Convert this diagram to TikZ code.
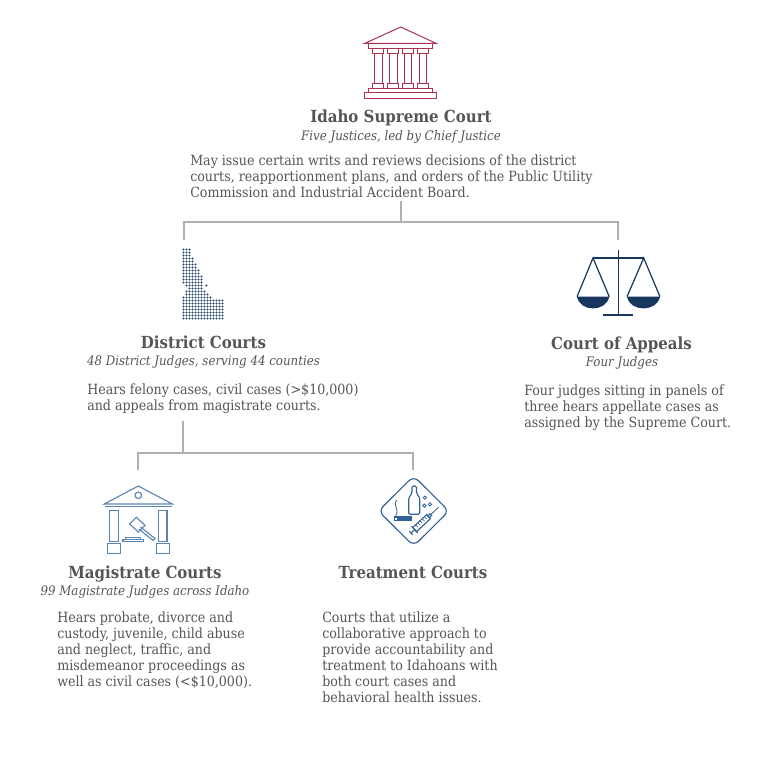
\documentclass[tikz,border=0pt]{standalone}
\usepackage{fontspec}
\setmainfont{DejaVu Serif Condensed}
\definecolor{inktext}{HTML}{555555}
\definecolor{courtred}{HTML}{A8324F}
\definecolor{navyblue}{HTML}{17365D}
\definecolor{dotblue}{HTML}{27466F}
\definecolor{steelblue}{HTML}{5A85B2}
\definecolor{deepblue}{HTML}{2F6296}
\definecolor{linegray}{HTML}{B0B0B0}
\tikzset{
  ctitle/.style={text=inktext,font=\fontsize{12.5}{14}\selectfont\bfseries,inner sep=0pt,anchor=base},
  csub/.style={text=inktext,font=\fontsize{9.85}{12}\selectfont\itshape,inner sep=0pt,anchor=base},
  cdesc/.style={text=inktext,font=\fontsize{10.55}{12}\selectfont,inner sep=0pt,anchor=north west,align=left},
  connector/.style={draw=linegray,line width=0.8pt},
  redline/.style={draw=courtred,line width=0.75pt},
  navyline/.style={draw=navyblue,line width=1.1pt},
  steelline/.style={draw=steelblue,line width=0.85pt},
  deepline/.style={draw=deepblue,line width=0.85pt}
}
\begin{document}
\begin{tikzpicture}[x=0.75pt,y=-0.75pt]
  \useasboundingbox (0,0) rectangle (761,783);
  %% supreme court icon
  \draw[redline] (365,43.3) -- (400.7,27) -- (436,43.3) -- cycle;
  \draw[redline] (368.3,43.3) rectangle (432.3,48.7);
  \foreach \colx in {372.7,387.7,402.5,417.5}{
    \draw[redline] (\colx,48.7) rectangle ++(10.6,4.6);
    \draw[redline] (\colx+1.5,53.3) rectangle ++(7.8,30);
    \draw[redline] (\colx,83.3) rectangle ++(10.6,4.7);
  }
  \draw[redline] (368.3,88) rectangle (432.3,92.3);
  \draw[redline] (364.7,92.3) rectangle (436.3,98.3);
  %% supreme court texts
  \node[ctitle] (supremetitle) at (401,122.5) {Idaho Supreme Court};
  \node[csub] (supremesub) at (401,140) {Five Justices, led by Chief Justice};
  \node[cdesc] (supremedesc) at (190,155) {May issue certain writs and reviews decisions of the district\\courts, reapportionment plans, and orders of the Public Utility\\Commission and Industrial Accident Board.};
  %% upper connectors
  \coordinate (supremefoot) at (401,201);
  \coordinate (supremeknee) at (401,222);
  \coordinate (districtdrop) at (184,240);
  \coordinate (appealsdrop) at (618,240);
  \draw[connector] (supremefoot) -- (supremeknee);
  \draw[connector] (districtdrop) |- (supremeknee) -| (appealsdrop);
  %% state map made of dots
  \foreach \rowy/\cola/\colb in {0/0/2,1/0/2,2/0/2,3/0/3,4/0/3,5/0/4,6/0/4,7/0/5,8/0/5,9/0/6,10/0/6,11/0/6,
      12/1/6,13/2/6,14/1/7,15/1/8,16/0/9,17/0/13,18/0/13,19/0/13,20/0/13,21/0/13,22/0/13,23/0/13}{
    \foreach \colx in {\cola,...,\colb}{
      \fill[dotblue] (183.5+3*\colx,249.5+3*\rowy) circle (1.1);
    }
  }
  \fill[dotblue] (206.5,285.5) circle (1.1);
  %% district court texts
  \node[ctitle] (districttitle) at (203.5,348) {District Courts};
  \node[csub] (districtsub) at (203.5,365) {48 District Judges, serving 44 counties};
  \node[cdesc] (districtdesc) at (87,384) {Hears felony cases, civil cases (>\$10,000)\\and appeals from magistrate courts.};
  %% scales icon
  \draw[navyline] (618.3,250) -- (618.3,315);
  \draw[navyline] (603,315) -- (633.3,315);
  \draw[navyline] (593,258) -- (643.7,258);
  \draw[navyline,line width=0.9pt] (577,296.7) -- (593,258) -- (609.3,296.7);
  \draw[navyline,line width=0.9pt] (627,296.7) -- (643.7,258) -- (660,296.7);
  \fill[navyblue] (577,296.7) .. controls (580,312.3) and (606,312.3) .. (609.3,296.7) -- cycle;
  \fill[navyblue] (627,296.7) .. controls (630,312.3) and (657,312.3) .. (660,296.7) -- cycle;
  %% appeals texts
  \node[ctitle] (appealstitle) at (621.5,349) {Court of Appeals};
  \node[csub] (appealssub) at (622,366) {Four Judges};
  \node[cdesc] (appealsdesc) at (524,385) {Four judges sitting in panels of\\three hears appellate cases as\\assigned by the Supreme Court.};
  %% lower connectors
  \coordinate (districtfoot) at (183,421);
  \coordinate (districtknee) at (183,453);
  \coordinate (magistratedrop) at (138,470);
  \coordinate (treatmentdrop) at (413,470);
  \draw[connector] (districtfoot) -- (districtknee);
  \draw[connector] (magistratedrop) |- (districtknee) -| (treatmentdrop);
  %% magistrate icon
  \draw[steelline] (104.3,504) -- (138.3,486) -- (172.3,504) -- cycle;
  \draw[steelline,line width=0.6pt] (105,506) -- (172,506);
  \draw[steelline] (138.3,495.3) circle (3.3);
  \draw[steelline] (109.7,510.7) rectangle (118.3,541.3);
  \draw[steelline] (158.3,510.7) rectangle (167,541.3);
  \draw[steelline] (107.7,543.3) rectangle (120.7,553.3);
  \draw[steelline] (156.3,543.3) rectangle (169.7,553.3);
  \draw[steelline] (129.7,524) -- (136.3,517.3) -- (145,525.3) -- (138.3,532) -- cycle;
  \draw[steelline] (140.5,527) -- (155,538.5) -- (153.2,540.5) -- (138.8,529) ;
  \draw[steelline] (125.7,537.3) rectangle (140.3,539.3);
  \draw[steelline] (123,539.3) rectangle (143.3,541.3);
  %% magistrate texts
  \node[ctitle] (magistratetitle) at (145,578) {Magistrate Courts};
  \node[csub] (magistratesub) at (145,595) {99 Magistrate Judges across Idaho};
  \node[cdesc] (magistratedesc) at (57,612) {Hears probate, divorce and\\custody, juvenile, child abuse\\and neglect, traffic, and\\misdemeanor proceedings as\\well as civil cases (<\$10,000).};
  %% treatment icon
  \draw[deepline,rounded corners=5pt] (413.7,476) -- (449,511) -- (413.7,546) -- (378.4,511) -- cycle;
  %% bottle
  \draw[deepline,rounded corners=1pt] (412,486) -- (416.5,486) -- (416.5,493) -- (419.7,498) -- (419.7,514.3) -- (408.7,514.3) -- (408.7,498) -- (412,493) -- cycle;
  %% cigarette
  \draw[deepline] (394.3,517) rectangle (411,520.3);
  \fill[deepblue] (397,517) rectangle (411,520.3);
  \draw[deepline,line width=0.6pt] (397,500) .. controls (392,505) and (400,509) .. (395.7,515.7);
  %% pills
  \foreach \pillx/\pilly in {425/497.7,424.3/505.7,430/504.3}{
    \draw[deepline,line width=0.6pt] (\pillx,\pilly) circle (1.7);
  }
  %% syringe
  \begin{scope}[shift={(411,533)},rotate=43]
    \draw[deepline] (0,-2.5) -- (0,2.5);
    \draw[deepline] (0,0) -- (5,0);
    \draw[deepline] (5,-4.5) -- (5,4.5);
    \draw[deepline] (5,-2.8) rectangle (24,2.8);
    \foreach \tickx in {9,12,15,18,21}{
      \draw[deepline,line width=0.5pt] (\tickx,-2.8) -- (\tickx,0.5);
    }
    \draw[deepline] (24,-1.2) rectangle (27,1.2);
    \draw[deepline,line width=0.6pt] (27,0) -- (38,0);
  \end{scope}
  %% treatment texts
  \node[ctitle] (treatmenttitle) at (413,578) {Treatment Courts};
  \node[cdesc] (treatmentdesc) at (322,612) {Courts that utilize a\\collaborative approach to\\provide accountability and\\treatment to Idahoans with\\both court cases and\\behavioral health issues.};
\end{tikzpicture}
\end{document}
